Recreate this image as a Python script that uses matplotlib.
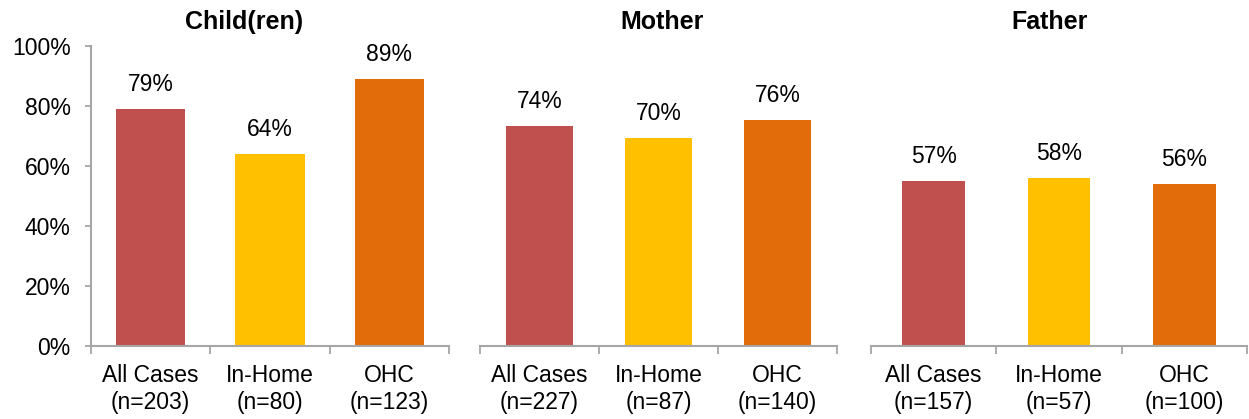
import matplotlib
matplotlib.use("Agg")
import matplotlib.pyplot as plt

plt.rcParams['font.family'] = ['Liberation Sans', 'DejaVu Sans']

panels = ["Child(ren)", "Mother", "Father"]
categories = ["All Cases", "In-Home", "OHC"]
counts = [[203, 80, 123], [227, 87, 140], [157, 57, 100]]
values = [[79, 64, 89], [74, 70, 76], [57, 58, 56]]
colors = ["#C0504D", "#FFC000", "#E36C0A"]
yticks = [0, 20, 40, 60, 80, 100]

W, H = 1249, 419
fig = plt.figure(figsize=(W / 100, H / 100), dpi=100)

axes_px = [(91, 358), (480, 357), (871, 376)]   # left, width in px
ylims = [100, 101, 103.5]
bar_widths = [0.58, 0.57, 0.5]
title_x = [244, 662, 1050]
gray = "#A6A6A6"

for i, (left, width) in enumerate(axes_px):
    ax = fig.add_axes([left / W, (H - 346) / H, width / W, 300 / H])
    x = list(range(len(categories)))
    ax.bar(x, values[i], width=bar_widths[i], color=colors, zorder=2)
    ax.set_xlim(-0.5, 2.5)
    ax.set_ylim(0, ylims[i])
    for xi, v in zip(x, values[i]):
        ax.annotate(f"{v}%", (xi, v), xytext=(0, 13), textcoords="offset points",
                    ha="center", va="baseline", fontsize=16.5, color="#000000")
    # x axis: boundary ticks, labels at centers
    ax.set_xticks([-0.5, 0.5, 1.5, 2.5])
    ax.set_xticklabels([])
    ax.tick_params(axis="x", which="major", direction="out", length=5.5, width=1.3, color=gray)
    ax.set_xticks(x, minor=True)
    ax.set_xticklabels([f"{c}\n(n={n})" for c, n in zip(categories, counts[i])], minor=True,
                       fontsize=16.5, linespacing=1.22)
    ax.tick_params(axis="x", which="minor", length=0, pad=13)
    for s in ["top", "right"]:
        ax.spines[s].set_visible(False)
    ax.spines["bottom"].set_color(gray)
    ax.spines["bottom"].set_linewidth(1.5)
    if i == 0:
        ax.set_yticks(yticks)
        ax.set_yticklabels([f"{t}%" for t in yticks], fontsize=16.5)
        ax.tick_params(axis="y", direction="out", length=4.5, width=1.3, color=gray, pad=10)
        ax.spines["left"].set_color(gray)
        ax.spines["left"].set_linewidth(1.5)
    else:
        ax.set_yticks([])
        ax.spines["left"].set_visible(False)
    fig.text(title_x[i] / W, 1 - 29 / H, panels[i], ha="center", va="baseline",
             fontsize=18, fontweight="bold")

fig.savefig("out.png", dpi=100)
